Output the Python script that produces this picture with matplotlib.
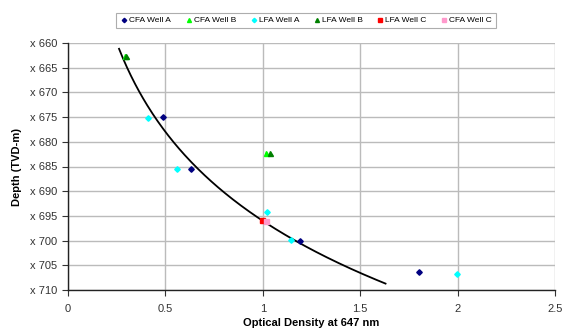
import numpy as np
import matplotlib
matplotlib.use("Agg")
import matplotlib.pyplot as plt

plt.rcParams['font.family'] = ['Liberation Sans', 'DejaVu Sans']

# Data
cfa_a_x = [0.49, 0.63, 1.19, 1.80]
cfa_a_y = [675.0, 685.6, 700.0, 706.4]
cfa_b_x = [0.295, 1.014]
cfa_b_y = [662.7, 682.2]
lfa_a_x = [0.41, 0.56, 1.024, 1.144, 1.997]
lfa_a_y = [675.1, 685.6, 694.2, 699.9, 706.8]
lfa_b_x = [0.30, 1.036]
lfa_b_y = [662.7, 682.2]
lfa_c_x = [0.998]
lfa_c_y = [695.9]
cfa_c_x = [1.015]
cfa_c_y = [696.0]

# Logarithmic trend line: y = a + b*ln(x)
trend_a = 696.0
trend_b = 26.0
trend_x_range = [0.262, 1.63]

y_ticks = [660, 665, 670, 675, 680, 685, 690, 695, 700, 705, 710]
y_tick_labels = ["x 660", "x 665", "x 670", "x 675", "x 680", "x 685",
                 "x 690", "x 695", "x 700", "x 705", "x 710"]
x_ticks = [0, 0.5, 1, 1.5, 2, 2.5]
x_tick_labels = ["0", "0.5", "1", "1.5", "2", "2.5"]

fig = plt.figure(figsize=(5.63, 3.29), dpi=100)
ax = fig.add_axes([68/563, 1-290/329, (555-68)/563, (290-43)/329])

tx = np.linspace(trend_x_range[0], trend_x_range[1], 200)
ax.plot(tx, trend_a + trend_b*np.log(tx), color='black', lw=1.3, zorder=3)

ms = 3.6
ax.plot(cfa_a_x, cfa_a_y, 'D', color='#000080', ms=2.8, ls='none', label='CFA Well A', zorder=4)
ax.plot(cfa_b_x, cfa_b_y, '^', color='#00FF00', ms=ms, ls='none', label='CFA Well B', zorder=4)
ax.plot(lfa_a_x, lfa_a_y, 'D', color='#00FFFF', ms=2.8, ls='none', label='LFA Well A', zorder=4)
ax.plot(lfa_b_x, lfa_b_y, '^', color='#008000', ms=ms, ls='none', label='LFA Well B', zorder=4)
ax.plot(lfa_c_x, lfa_c_y, 's', color='#FF0000', ms=ms, ls='none', label='LFA Well C', zorder=4)
ax.plot(cfa_c_x, cfa_c_y, 's', color='#FF99CC', ms=ms, ls='none', label='CFA Well C', zorder=4)

ax.set_xlim(0, 2.5)
ax.set_ylim(710, 660)
ax.set_xticks(x_ticks)
ax.set_xticklabels(x_tick_labels)
ax.set_yticks(y_ticks)
ax.set_yticklabels(y_tick_labels)
ax.tick_params(axis='both', labelsize=8, colors='#333333', length=4, width=0.8)
ax.tick_params(axis='x', pad=6)
ax.grid(True, color='#bbbbbb', lw=1)
ax.set_axisbelow(True)
for s in ['top', 'right']:
    ax.spines[s].set_visible(False)
for s in ['left', 'bottom']:
    ax.spines[s].set_color('#222222')
    ax.spines[s].set_linewidth(1)

ax.set_ylabel('Depth (TVD-m)', fontsize=8, fontweight='bold', labelpad=6)
fig.text(311/563, 1-322.5/329, 'Optical Density at 647 nm', fontsize=8,
         fontweight='bold', ha='center', va='center')

leg = fig.legend(loc='center', bbox_to_anchor=(306/563, 1-20.5/329), ncol=6,
                 fontsize=6, frameon=True, fancybox=False, handletextpad=0.1,
                 columnspacing=1.6, handlelength=1.0, borderpad=0.45,
                 borderaxespad=0, markerscale=0.8)
leg.get_frame().set_edgecolor('#999999')
leg.get_frame().set_linewidth(0.8)

fig.savefig('out.png', dpi=100)
